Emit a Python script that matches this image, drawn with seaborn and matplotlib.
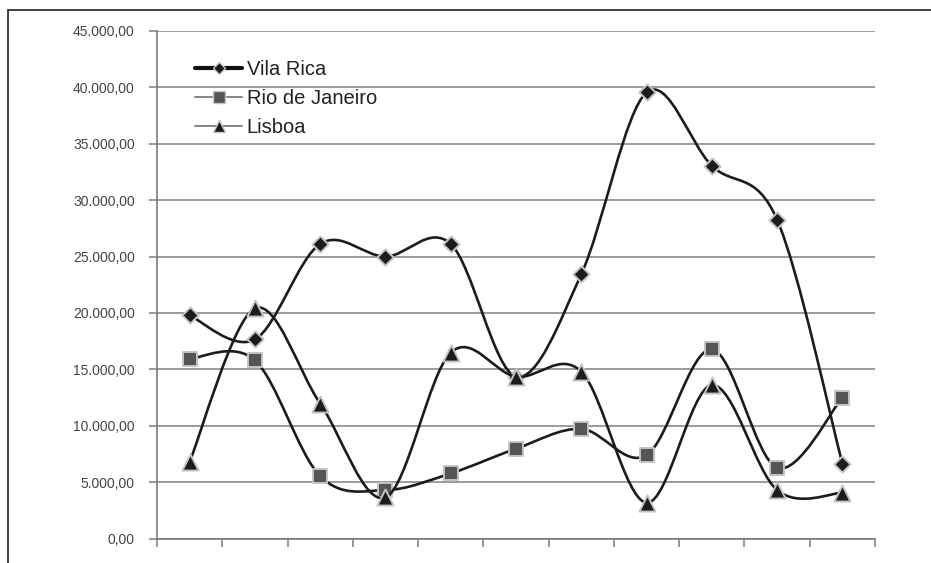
import numpy as np
import pandas as pd
import matplotlib
matplotlib.use('Agg')
import matplotlib.pyplot as plt
import seaborn as sns
from matplotlib.path import Path
from matplotlib.patches import PathPatch
from matplotlib.lines import Line2D
from matplotlib.ticker import FuncFormatter, FixedLocator

# ---------------------------------------------------------------- data
positions = list(range(11))
vila_rica = [19780, 17650, 26120, 25000, 26120, 14350, 23430, 39550, 33050, 28270, 6650]
rio_de_janeiro = [15950, 15800, 5530, 4290, 5770, 7960, 9720, 7390, 16770, 6270, 12500]
lisboa = [6800, 20400, 11960, 3640, 16480, 14350, 14800, 3170, 13600, 4290, 4050]
series_names = ['Vila Rica', 'Rio de Janeiro', 'Lisboa']
y_ticks = [0, 5000, 10000, 15000, 20000, 25000, 30000, 35000, 40000, 45000]

# ---------------------------------------------------------------- style
sns.set_theme(style='white')
plt.rcParams['font.family'] = ['Liberation Sans', 'DejaVu Sans']

LINE_COLOR = '#1c1c1c'
MARKERS = {'Vila Rica': 'D', 'Rio de Janeiro': 's', 'Lisboa': '^'}
FACE = {'Vila Rica': '#1c1c1c', 'Rio de Janeiro': '#555555', 'Lisboa': '#1c1c1c'}
SIZES = {'Vila Rica': 68, 'Rio de Janeiro': 92, 'Lisboa': 135}


def smooth_path(xs, ys):
    """Excel-like smoothed line as cubic Bezier segments through the points."""
    pts = np.column_stack([xs, ys]).astype(float)
    n = len(pts)
    verts = [pts[0]]
    codes = [Path.MOVETO]
    for i in range(n - 1):
        p_prev = pts[i - 1] if i > 0 else pts[i]
        p_next2 = pts[i + 2] if i + 2 < n else pts[i + 1]
        c1 = pts[i] + (pts[i + 1] - p_prev) / 6.0
        c2 = pts[i + 1] - (p_next2 - pts[i]) / 6.0
        verts += [c1, c2, pts[i + 1]]
        codes += [Path.CURVE4] * 3
    return Path(verts, codes)


df = pd.DataFrame({
    'pos': positions * 3,
    'valor': vila_rica + rio_de_janeiro + lisboa,
    'serie': [s for s in series_names for _ in positions],
})

fig = plt.figure(figsize=(9.31, 5.63), dpi=100)
ax = fig.add_axes([157 / 931, 1 - 538.5 / 563, (875 - 157) / 931, (538.5 - 31) / 563])

for k, name in enumerate(series_names):
    sub = df[df['serie'] == name]
    patch = PathPatch(smooth_path(sub['pos'].values, sub['valor'].values),
                      fill=False, edgecolor=LINE_COLOR, linewidth=1.9,
                      capstyle='round', joinstyle='round', zorder=3 + 2 * k)
    ax.add_patch(patch)
    sns.scatterplot(data=sub, x='pos', y='valor', marker=MARKERS[name],
                    s=SIZES[name], color=FACE[name], edgecolor='#c4c4c4',
                    linewidth=1.4, ax=ax, zorder=4 + 2 * k, legend=False)

# ---------------------------------------------------------------- axes
ax.set_xlim(-0.5, 10.5)
ax.set_ylim(0, 45000)
ax.set_xlabel('')
ax.set_ylabel('')
ax.yaxis.set_major_locator(FixedLocator(y_ticks))
ax.yaxis.set_major_formatter(FuncFormatter(
    lambda v, _: f'{v:,.2f}'.replace(',', 'X').replace('.', ',').replace('X', '.')))
ax.xaxis.set_major_locator(FixedLocator(np.arange(-0.5, 11, 1.0)))
ax.set_xticklabels([])
ax.grid(axis='y', color='#8a8a8a', linewidth=1.2, zorder=1)
ax.set_axisbelow(True)
for side in ['top', 'right']:
    ax.spines[side].set_visible(False)
for side in ['left', 'bottom']:
    ax.spines[side].set_color('#7a7a7a')
    ax.spines[side].set_linewidth(1.2)
ax.tick_params(axis='y', which='major', left=True, length=6, width=1.1,
               color='#7a7a7a', labelsize=10, labelcolor='#444444', pad=10)
ax.tick_params(axis='x', which='major', bottom=True, length=6, width=1.1,
               color='#7a7a7a')

# ---------------------------------------------------------------- legend
handles = [
    Line2D([], [], color='#111111', linewidth=3.0, marker='D', markersize=6,
           markerfacecolor='#1c1c1c', markeredgecolor='#c4c4c4'),
    Line2D([], [], color='#7a7a7a', linewidth=1.3, marker='s', markersize=8,
           markerfacecolor='#555555', markeredgecolor='#c4c4c4'),
    Line2D([], [], color='#7a7a7a', linewidth=1.3, marker='^', markersize=9,
           markerfacecolor='#1c1c1c', markeredgecolor='#c4c4c4'),
]
leg = ax.legend(handles, series_names, loc='upper left',
                bbox_to_anchor=((195 - 157) / 718, (538.5 - 60) / 507.5),
                frameon=False, fontsize=14.5, handlelength=2.35,
                handletextpad=0.22, labelspacing=0.5, borderaxespad=0,
                borderpad=0)
for t in leg.get_texts():
    t.set_color('#222222')

# outer frame of the original chart (cropped on right and bottom)
fig.add_artist(Line2D([8 / 931, 8 / 931], [0, 1 - 10 / 563],
                      transform=fig.transFigure, color='#333333', linewidth=1.3))
fig.add_artist(Line2D([8 / 931, 1], [1 - 10 / 563, 1 - 10 / 563],
                      transform=fig.transFigure, color='#333333', linewidth=1.3))

fig.savefig('out.png', dpi=100)
